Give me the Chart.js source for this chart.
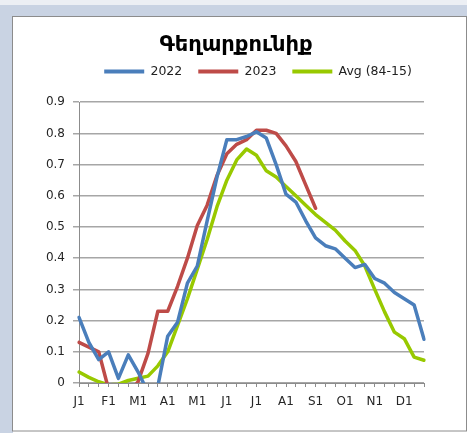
<!DOCTYPE html>
<html><head><meta charset="utf-8">
<script src="https://cdn.jsdelivr.net/npm/chart.js@4/dist/chart.umd.min.js"></script>
<style>html,body{margin:0;padding:0;background:#fff;overflow:hidden}</style>
</head><body>
<canvas id="c" width="467" height="433"></canvas>
<script>
// ---- data (dekads of the year) ----
const monthTickLabels = ['J1','F1','M1','A1','M1','J1','J1','A1','S1','O1','N1','D1'];
const dekadsPerMonth = 3;
const chartTitle = 'Գեղարքունիք';
const seriesNames = ['2022', '2023', 'Avg (84-15)'];
const values2022 = [0.21,0.13,0.075,0.10,0.015,0.09,0.035,-0.03,-0.01,0.15,0.195,0.32,0.375,0.52,0.66,0.78,0.78,0.79,0.805,0.785,0.70,0.605,0.58,0.52,0.465,0.44,0.43,0.40,0.37,0.38,0.335,0.32,0.29,0.27,0.25,0.14];
const values2023 = [0.13,0.115,0.10,-0.02,-0.06,-0.04,0.005,0.095,0.23,0.23,0.31,0.40,0.505,0.57,0.665,0.735,0.765,0.78,0.81,0.81,0.80,0.76,0.71,0.635,0.56,null,null,null,null,null,null,null,null,null,null,null];
const valuesAvg = [0.035,0.018,0.004,-0.006,-0.004,0.008,0.015,0.022,0.055,0.10,0.185,0.27,0.365,0.46,0.565,0.65,0.715,0.75,0.73,0.68,0.66,0.63,0.60,0.57,0.54,0.515,0.49,0.455,0.425,0.375,0.30,0.228,0.163,0.142,0.083,0.073];
const yTicks = {min: 0, max: 0.9, step: 0.1};

// category labels: one per dekad, month label on first dekad
const categories = [];
monthTickLabels.forEach(m => { for (let d = 0; d < dekadsPerMonth; d++) categories.push(d === 0 ? m : ''); });

const colors = ['#4a7ebb', '#be4b48', '#98c900'];

const framePlugin = {
  id: 'frame',
  beforeDraw(chart) {
    const ctx = chart.ctx;
    ctx.save();
    ctx.fillStyle = '#c9d3e3'; ctx.fillRect(0, 0, 467, 433);
    ctx.fillStyle = '#eceff4'; ctx.fillRect(0, 0, 467, 5);
    ctx.fillStyle = '#ffffff'; ctx.fillRect(13, 17, 454, 416);
    ctx.strokeStyle = '#8c8c8c'; ctx.lineWidth = 1;
    ctx.strokeRect(12.5, 16.5, 454, 414.5);
    ctx.restore();
  },
  afterLayout(chart) {
    if (chart.titleBlock) { chart.titleBlock.left = 0; chart.titleBlock.right = 472; }
    if (chart.legend) { chart.legend.left = 49; chart.legend.right = 467; }
  }
};

new Chart(document.getElementById('c'), {
  type: 'line',
  data: {
    labels: categories,
    datasets: [values2022, values2023, valuesAvg].map((v, i) => ({
      label: seriesNames[i],
      data: v,
      borderColor: colors[i],
      backgroundColor: colors[i],
      borderWidth: 3.5,
      pointRadius: 0,
      tension: 0,
      fill: false,
      borderJoinStyle: 'round',
      borderCapStyle: 'round'
    }))
  },
  options: {
    responsive: false,
    devicePixelRatio: 1,
    animation: false,
    layout: {padding: {left: 0, right: 43, top: 0, bottom: 0}},
    plugins: {
      title: {
        display: true, text: chartTitle, color: '#000',
        font: {family: 'DejaVu Sans', size: 21, weight: 'bold', lineHeight: 1.2},
        padding: {top: 33, bottom: -9}
      },
      subtitle: {
        display: true, text: ' ', weight: 500,
        font: {size: 1, lineHeight: 1}, padding: {top: 0, bottom: 13.5}
      },
      legend: {
        display: true, position: 'top',
        labels: {
          boxWidth: 40, boxHeight: 4, padding: 16, color: '#222',
          font: {family: 'DejaVu Sans', size: 12.5},
          generateLabels: (chart) => Chart.defaults.plugins.legend.labels.generateLabels(chart).map(l => Object.assign(l, {lineWidth: 0}))
        }
      },
      tooltip: {enabled: false}
    },
    scales: {
      x: {
        type: 'category', offset: false,
        afterFit: s => { s.height = 50; },
        grid: {display: true, drawOnChartArea: false, drawTicks: true, tickLength: 4, color: '#8c8c8c', lineWidth: 1},
        border: {display: true, color: '#8c8c8c', width: 1},
        ticks: {autoSkip: false, maxRotation: 0, minRotation: 0, padding: 8, color: '#262626',
          font: {family: 'DejaVu Sans', size: 12}}
      },
      y: {
        min: yTicks.min, max: yTicks.max,
        afterFit: s => { s.width = 79; },
        grid: {color: '#a6a6a6', lineWidth: 1.5, tickLength: 6, drawTicks: true},
        border: {display: true, color: '#8c8c8c', width: 1},
        ticks: {stepSize: yTicks.step, padding: 8, color: '#262626',
          font: {family: 'DejaVu Sans', size: 12},
          callback: v => { const r = Math.round(v * 10) / 10; return r === 0 ? '0' : r.toFixed(1); }}
      }
    }
  },
  plugins: [framePlugin]
});
</script>
</body></html>
